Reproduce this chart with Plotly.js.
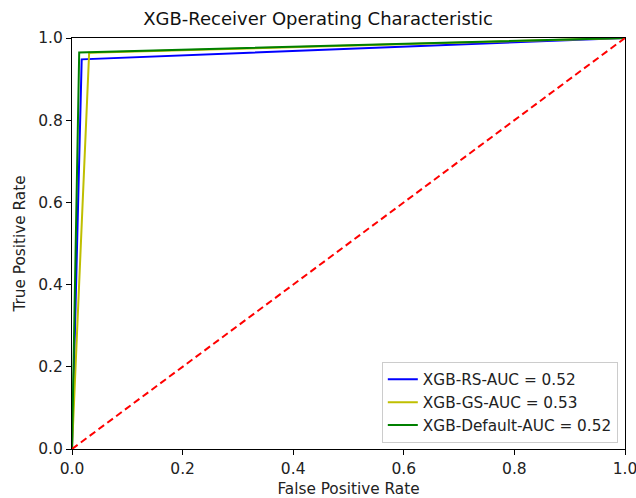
<!DOCTYPE html>
<html>
<head>
<meta charset="utf-8">
<script src="https://cdn.plot.ly/plotly-3.0.1.min.js"></script>
<style>html,body{margin:0;padding:0;background:#fff;}#chart{width:636px;height:498px;}</style>
</head>
<body>
<div id="chart"></div>
<script>
const rsFpr = [0, 0.0175, 1];
const rsTpr = [0, 0.948, 1];
const gsFpr = [0, 0.031, 1];
const gsTpr = [0, 0.964, 1];
const defFpr = [0, 0.013, 1];
const defTpr = [0, 0.965, 1];
const diagX = [0, 1];
const diagY = [0, 1];
const names = ['XGB-RS-AUC = 0.52', 'XGB-GS-AUC = 0.53', 'XGB-Default-AUC = 0.52'];
const colors = ['#0000ff', '#bfbf00', '#008000'];
const tickVals = [0, 0.2, 0.4, 0.6, 0.8, 1.0];
const tickText = ['0.0', '0.2', '0.4', '0.6', '0.8', '1.0'];

const traces = [
  {x: rsFpr, y: rsTpr, name: names[0], mode: 'lines', line: {color: colors[0], width: 2}},
  {x: gsFpr, y: gsTpr, name: names[1], mode: 'lines', line: {color: colors[1], width: 2}},
  {x: defFpr, y: defTpr, name: names[2], mode: 'lines', line: {color: colors[2], width: 2}},
  {x: diagX, y: diagY, mode: 'lines', showlegend: false, line: {color: '#ff0000', width: 2, dash: '7px,4px'}}
];

const axisCommon = {
  range: [-0.000001, 1.000001], tickvals: tickVals, ticktext: tickText,
  showgrid: false, zeroline: false, showline: true, mirror: true,
  linecolor: '#000', linewidth: 1, ticks: 'outside', ticklen: 5, tickcolor: '#000',
  tickfont: {size: 15.5, color: '#222'}, ticklabeloverflow: 'allow'
};

const layout = {
  width: 636, height: 498,
  margin: {l: 72, r: 11, t: 38, b: 49},
  paper_bgcolor: '#fff', plot_bgcolor: '#fff',
  font: {family: 'DejaVu Sans', color: '#222'},
  title: {text: 'XGB-Receiver Operating Characteristic', font: {size: 18, color: '#111'}, x: 0.5, xanchor: 'center', y: 0.963, yanchor: 'middle'},
  xaxis: Object.assign({}, axisCommon, {title: {text: 'False Positive Rate', font: {size: 15.3}, standoff: 6}}),
  yaxis: Object.assign({}, axisCommon, {title: {text: 'True Positive Rate', font: {size: 15.3}, standoff: 8}}),
  showlegend: true,
  legend: {x: 0.987, y: 0.015, xanchor: 'right', yanchor: 'bottom', bgcolor: 'rgba(255,255,255,0.8)', bordercolor: '#cccccc', borderwidth: 1, font: {size: 15.3, color: '#222'}, tracegroupgap: 0}
};

Plotly.newPlot('chart', traces, layout, {staticPlot: true, displayModeBar: false});
</script>
</body>
</html>
